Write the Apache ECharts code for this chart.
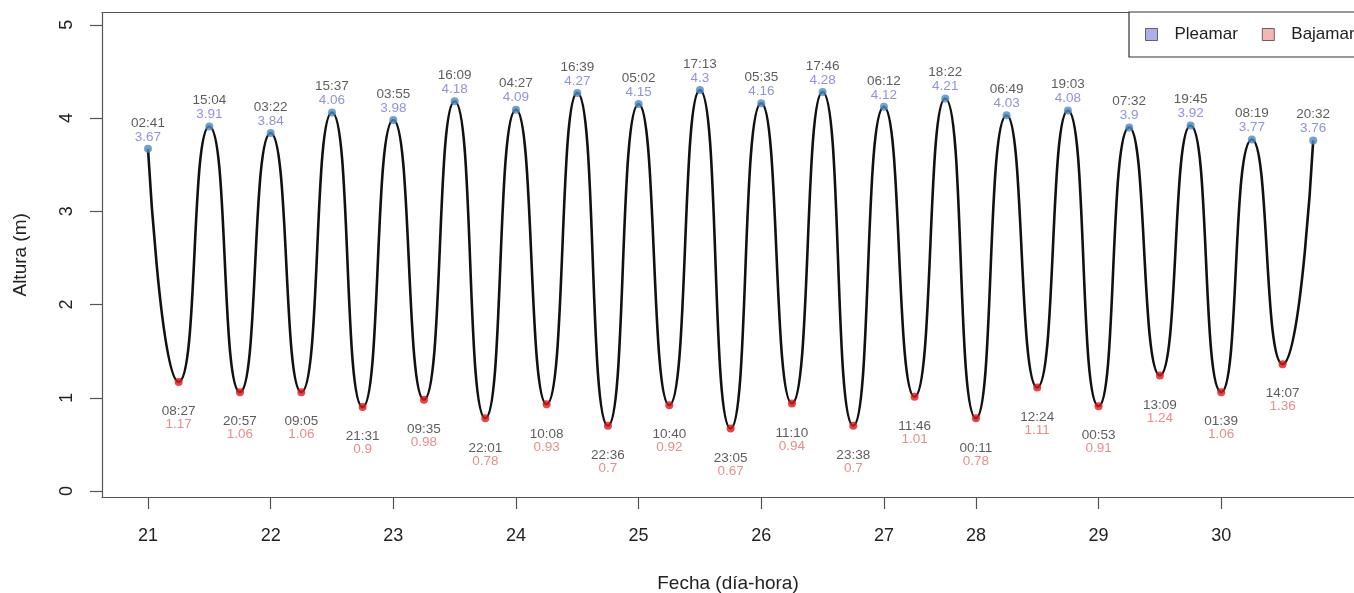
<!DOCTYPE html>
<html><head><meta charset="utf-8">
<script src="https://cdn.jsdelivr.net/npm/echarts@6/dist/echarts.min.js"></script>
<style>html,body{margin:0;padding:0;background:#fff}#c{width:1354px;height:593px}</style>
</head><body><div id="c"></div>
<script>
// Tide events in chronological order (days 21-30)
const eventTimes = ['02:41','08:27','15:04','20:57','03:22','09:05','15:37','21:31','03:55','09:35',
  '16:09','22:01','04:27','10:08','16:39','22:36','05:02','10:40','17:13','23:05',
  '05:35','11:10','17:46','23:38','06:12','11:46','18:22','00:11','06:49','12:24',
  '19:03','00:53','07:32','13:09','19:45','01:39','08:19','14:07','20:32'];
const eventHeights = [3.67,1.17,3.91,1.06,3.84,1.06,4.06,0.9,3.98,0.98,
  4.18,0.78,4.09,0.93,4.27,0.7,4.15,0.92,4.3,0.67,
  4.16,0.94,4.28,0.7,4.12,1.01,4.21,0.78,4.03,1.11,
  4.08,0.91,3.9,1.24,3.92,1.06,3.77,1.36,3.76];
const eventKinds = ['H','L','H','L','H','L','H','L','H','L',
  'H','L','H','L','H','L','H','L','H','L',
  'H','L','H','L','H','L','H','L','H','L',
  'H','L','H','L','H','L','H','L','H'];
const dayTickLabels = ['21','22','23','24','25','26','27','28','29','30'];
const dayTickIndex = [0,4,8,12,16,20,24,27,31,35];
const yTickValues = [0,1,2,3,4,5];

const FONT = "'Liberation Sans', Arial, sans-serif";
const lineData = eventHeights.map((h,i)=>[i,h]);
const highData = [], lowData = [];
eventHeights.forEach((h,i)=>{
  (eventKinds[i]==='H'?highData:lowData).push([i,h,eventTimes[i]]);
});
const AX = {color:'#555', width:1.2};

const chart = echarts.init(document.getElementById('c'));
chart.setOption({
  animation:false,
  backgroundColor:'#fff',
  textStyle:{fontFamily:FONT},
  grid:{left:102,right:0,top:12.7,bottom:96,show:false,containLabel:false,outerBoundsMode:'none'},
  legend:{
    left:1129, top:12, width:300, orient:'horizontal',
    backgroundColor:'#fff', borderColor:'#333', borderWidth:1.2,
    padding:[14,14,14,16], itemWidth:12, itemHeight:12, itemGap:24,
    textStyle:{fontSize:17, color:'#222', fontFamily:FONT, padding:[0,0,0,12]},
    data:[
      {name:'Pleamar', icon:'rect', itemStyle:{color:'#9a9ae6', borderColor:'#444', borderWidth:1}},
      {name:'Bajamar', icon:'rect', itemStyle:{color:'#f2a3a3', borderColor:'#444', borderWidth:1}}
    ]
  },
  xAxis:[{
    type:'value', min:-1.5, max:39.33, position:'bottom',
    axisLine:{show:true, onZero:false, lineStyle:AX}, splitLine:{show:false},
    axisTick:{show:true, length:12, customValues:dayTickIndex, lineStyle:AX},
    axisLabel:{customValues:dayTickIndex, margin:30, fontSize:18, color:'#222', fontFamily:FONT,
      formatter:v=>dayTickLabels[dayTickIndex.indexOf(v)]},
    name:'Fecha (día-hora)', nameLocation:'middle', nameGap:77,
    nameTextStyle:{fontSize:19, color:'#222', fontFamily:FONT}
  },{
    type:'value', min:-1.5, max:39.33, position:'top',
    axisLine:{show:true, onZero:false, lineStyle:AX}, splitLine:{show:false},
    axisTick:{show:false}, axisLabel:{show:false}
  }],
  yAxis:{
    type:'value', min:-0.064, max:5.13,
    axisLine:{show:true, onZero:false, lineStyle:AX}, splitLine:{show:false},
    axisTick:{show:true, length:12, customValues:yTickValues, lineStyle:AX},
    axisLabel:{customValues:yTickValues, rotate:90, margin:26, fontSize:18, color:'#222', fontFamily:FONT},
    name:'Altura (m)', nameLocation:'middle', nameGap:72, nameRotate:90,
    nameTextStyle:{fontSize:19, color:'#222', fontFamily:FONT}
  },
  series:[
    {type:'line', name:'curve', data:lineData, smooth:0.6, showSymbol:false, symbol:'none',
      lineStyle:{color:'#111', width:2.6}, z:1, silent:true},
    {type:'scatter', name:'Pleamar', data:highData, symbolSize:8, itemStyle:{color:'#4a8cc6'}, z:3,
      label:{show:true, position:'top', distance:1, fontFamily:FONT,
        formatter:p=>'{t|'+p.data[2]+'}\n{v|'+p.data[1]+'}',
        rich:{t:{color:'#333', fontSize:13.5, lineHeight:14, fontFamily:FONT},
              v:{color:'#7575d8', fontSize:13.5, lineHeight:14, fontFamily:FONT}}}},
    {type:'scatter', name:'Bajamar', data:lowData, symbolSize:8, itemStyle:{color:'#e01818'}, z:3,
      label:{show:true, position:'bottom', distance:19, fontFamily:FONT,
        formatter:p=>'{t|'+p.data[2]+'}\n{v|'+p.data[1]+'}',
        rich:{t:{color:'#333', fontSize:13.5, lineHeight:13, fontFamily:FONT},
              v:{color:'#e07070', fontSize:13.5, lineHeight:13, fontFamily:FONT}}}}
  ]
});
</script></body></html>
